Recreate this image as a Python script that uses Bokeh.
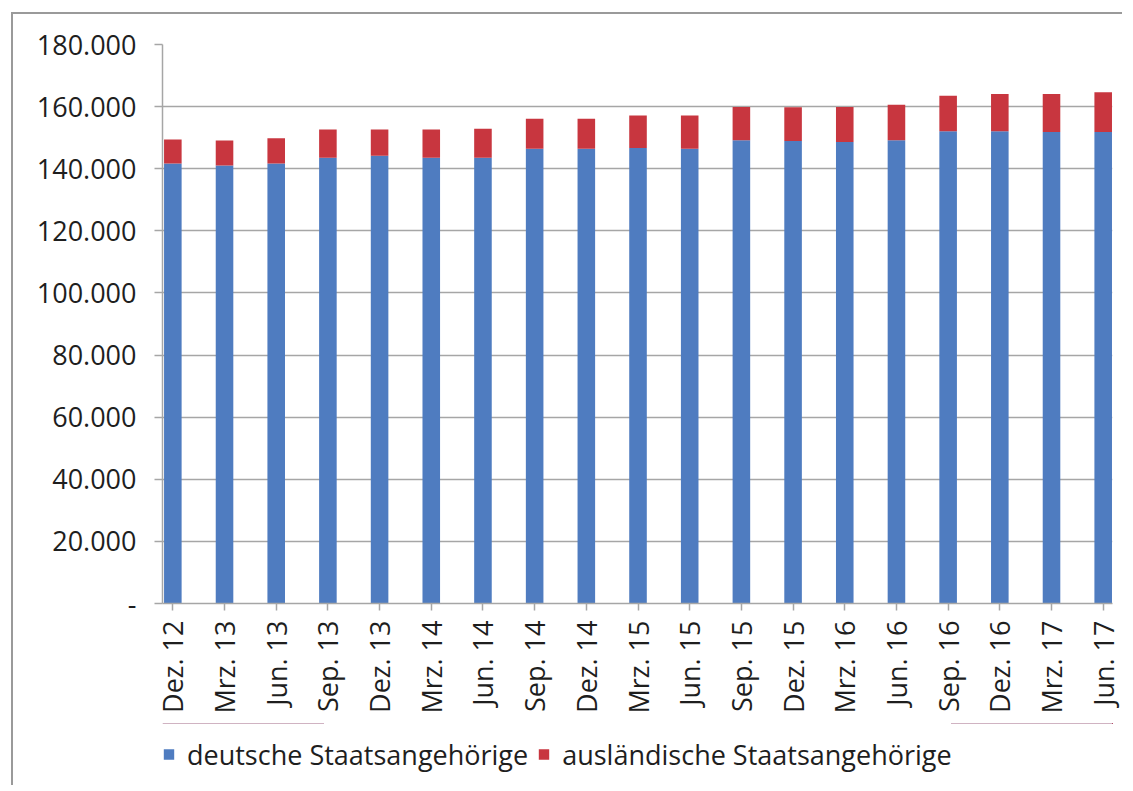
from bokeh.plotting import figure
from bokeh.layouts import column
from bokeh.models import ColumnDataSource, FixedTicker, Legend, LegendItem
from bokeh.embed import file_html
from bokeh.resources import INLINE
import math

categories = ["Dez. 12", "Mrz. 13", "Jun. 13", "Sep. 13", "Dez. 13", "Mrz. 14", "Jun. 14",
              "Sep. 14", "Dez. 14", "Mrz. 15", "Jun. 15", "Sep. 15", "Dez. 15", "Mrz. 16",
              "Jun. 16", "Sep. 16", "Dez. 16", "Mrz. 17", "Jun. 17"]
deutsche = [141700, 141000, 141700, 143500, 144200, 143500, 143500, 146400, 146400, 146700,
            146400, 149200, 148900, 148600, 149200, 152100, 152100, 151800, 151800]
auslaendische = [7700, 8100, 8100, 9100, 8400, 9100, 9400, 9700, 9700, 10400,
                 10700, 10700, 10900, 11300, 11400, 11400, 12000, 12300, 12800]
y_ticks = [0, 20000, 40000, 60000, 80000, 100000, 120000, 140000, 160000, 180000]
y_labels = ["-", "20.000", "40.000", "60.000", "80.000", "100.000", "120.000",
            "140.000", "160.000", "180.000"]
series_names = ["deutsche Staatsangehörige", "ausländische Staatsangehörige"]

FONT = "Open Sans"
TXT = "#1e1e1e"
GRID = "#a6a6a6"
BLUE = "#4f7cc0"
RED = "#c8363f"

xs = list(range(len(categories)))
source = ColumnDataSource(dict(x=xs, deutsche=deutsche, auslaendische=auslaendische))

p = figure(frame_width=950, frame_height=559, output_backend="svg", toolbar_location=None,
           x_range=(-0.2, len(categories) - 1 + 0.18), y_range=(0, 180000),
           min_border_left=149, min_border_right=10, min_border_top=30,
           min_border_bottom=120)

renderers = p.vbar_stack(["deutsche", "auslaendische"], x="x", width=0.34,
                         color=[BLUE, RED], line_color=None, source=source)

p.outline_line_color = None
p.background_fill_color = "white"
p.border_fill_color = "white"

p.xgrid.grid_line_color = None
p.ygrid.grid_line_color = GRID
p.ygrid.grid_line_width = 1.5
p.ygrid.ticker = FixedTicker(ticks=y_ticks)

p.yaxis.ticker = FixedTicker(ticks=y_ticks)
p.yaxis.major_label_overrides = {t: l for t, l in zip(y_ticks, y_labels)}
p.yaxis.axis_line_color = GRID
p.yaxis.axis_line_width = 1.5
p.yaxis.major_tick_line_color = GRID
p.yaxis.major_tick_line_width = 1.5
p.yaxis.major_tick_out = 8
p.yaxis.major_tick_in = 0
p.yaxis.minor_tick_line_color = None
p.yaxis.major_label_standoff = 18
p.yaxis.major_label_text_font = FONT
p.yaxis.major_label_text_font_size = "27px"
p.yaxis.major_label_text_color = TXT

p.xaxis.ticker = FixedTicker(ticks=xs)
p.xaxis.major_label_overrides = {i: c for i, c in zip(xs, categories)}
p.xaxis.major_label_orientation = math.pi / 2
p.xaxis.axis_line_color = GRID
p.xaxis.axis_line_width = 1.5
p.xaxis.major_tick_line_color = GRID
p.xaxis.major_tick_line_width = 1.5
p.xaxis.major_tick_out = 7
p.xaxis.major_tick_in = 0
p.xaxis.minor_tick_line_color = None
p.xaxis.major_label_standoff = 10
p.xaxis.major_label_text_font = FONT
p.xaxis.major_label_text_font_size = "27px"
p.xaxis.major_label_text_color = TXT

# legend strip below the chart (its renderers share the data but lie outside the view)
p2 = figure(frame_width=950, frame_height=62, output_backend="svg", toolbar_location=None,
            x_range=(0, 1), y_range=(-2, -1),
            min_border_left=149, min_border_right=10, min_border_top=0,
            min_border_bottom=0)
p2.axis.visible = False
p2.grid.grid_line_color = None
p2.outline_line_color = None
p2.border_fill_color = "white"
g1 = p2.vbar(x="x", top="deutsche", width=0.34, color=BLUE, line_color=None, source=source)
g2 = p2.vbar(x="x", top="auslaendische", width=0.34, color=RED, line_color=None, source=source)

legend = Legend(items=[LegendItem(label=series_names[0], renderers=[g1], index=0),
                       LegendItem(label=series_names[1], renderers=[g2], index=0)],
                orientation="horizontal", location="center_left")
legend.label_text_font = FONT
legend.label_text_font_size = "27px"
legend.label_text_color = TXT
legend.glyph_width = 13
legend.glyph_height = 13
legend.label_standoff = 12
legend.spacing = 9
legend.padding = 0
legend.margin = 0
legend.border_line_color = None
legend.background_fill_alpha = 0
p2.add_layout(legend)

layout = column(p, p2, spacing=0)
layout.styles = {"border-top": "2px solid #9a9a9a", "border-left": "2px solid #9a9a9a",
                 "margin-left": "11px", "margin-top": "12px"}

open("out.html", "w").write(file_html(layout, INLINE))
